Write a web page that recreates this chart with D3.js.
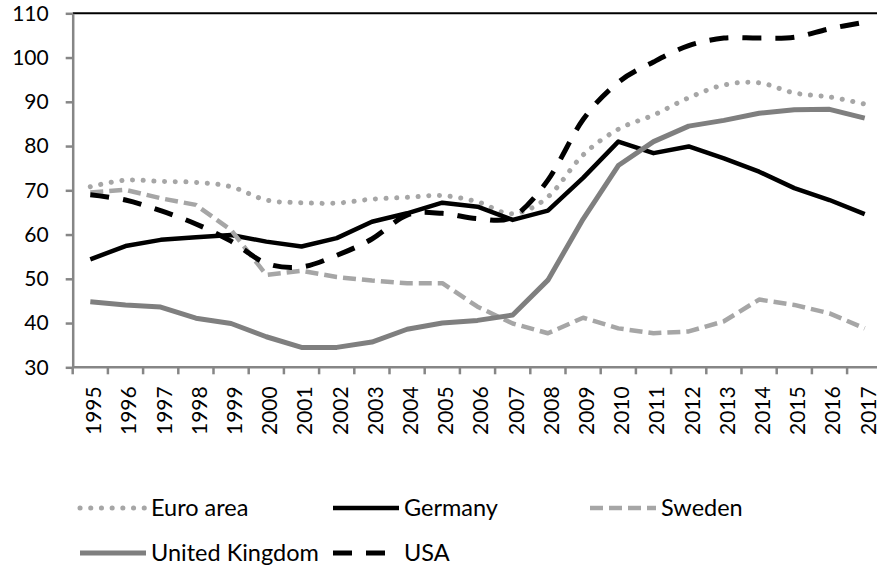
<!DOCTYPE html>
<html>
<head>
<meta charset="utf-8">
<script src="https://cdnjs.cloudflare.com/ajax/libs/d3/7.8.5/d3.min.js"></script>
<style>
  body { margin: 0; background: #fff; }
  svg { display: block; font-family: Lato, "Open Sans", sans-serif; }
  .tick text { fill: #000; }
</style>
</head>
<body>
<div id="chart"></div>
<script>
// chart values
var years = ["1995","1996","1997","1998","1999","2000","2001","2002","2003","2004","2005","2006",
             "2007","2008","2009","2010","2011","2012","2013","2014","2015","2016","2017"];
var euroArea = [70.8, 72.3, 72.0, 71.8, 70.8, 67.8, 67.2, 67.1, 68.0, 68.4, 68.8, 67.4,
                64.7, 68.5, 78.0, 83.8, 87.0, 90.9, 93.8, 94.3, 92.0, 91.1, 89.5];
var germany = [54.4, 57.4, 58.8, 59.4, 59.9, 58.4, 57.3, 59.2, 62.9, 64.8, 67.2, 66.3,
               63.3, 65.4, 72.8, 81.0, 78.4, 79.9, 77.2, 74.2, 70.5, 67.8, 64.6];
var sweden = [69.5, 70.1, 68.2, 66.7, 61.0, 50.9, 51.8, 50.4, 49.6, 49.0, 49.0, 43.7,
              39.9, 37.7, 41.2, 38.8, 37.7, 38.1, 40.4, 45.3, 44.1, 42.2, 38.8];
var unitedKingdom = [44.8, 44.1, 43.6, 41.1, 39.9, 36.9, 34.5, 34.5, 35.7, 38.6, 40.0, 40.6,
                     41.8, 49.7, 63.5, 75.6, 81.0, 84.5, 85.8, 87.4, 88.2, 88.3, 86.3];
var usa = [69.0, 67.8, 65.4, 62.4, 58.5, 53.5, 52.7, 55.3, 59.0, 64.4, 64.8, 63.6,
           64.0, 72.3, 86.0, 94.4, 99.0, 102.7, 104.4, 104.4, 104.6, 106.5, 108.0];
var yTicks = [30, 40, 50, 60, 70, 80, 90, 100, 110];

var width = 877, height = 570;
var plotLeft = 72.7, plotRight = 882.3, plotTop = 13.3, plotBottom = 367.3;

var svg = d3.select("#chart").append("svg")
  .attr("width", width)
  .attr("height", height);

var x = d3.scaleBand().domain(years).range([plotLeft, plotRight]).padding(0);
var y = d3.scaleLinear().domain([30, 110]).range([plotBottom, plotTop]);
var bw = x.bandwidth();

// series styles
var series = [
  {name: "Euro area", values: euroArea, color: "#a6a6a6", width: 5, dash: "0.1,10.6", cap: "round", smooth: true},
  {name: "Germany", values: germany, color: "#000", width: 4.5, dash: null, cap: "butt", smooth: false},
  {name: "Sweden", values: sweden, color: "#a6a6a6", width: 4.5, dash: "13,6", cap: "butt", smooth: false},
  {name: "United Kingdom", values: unitedKingdom, color: "#7f7f7f", width: 5, dash: null, cap: "butt", smooth: false},
  {name: "USA", values: usa, color: "#000", width: 5, dash: "19,14", cap: "butt", smooth: true}
];

// top border
svg.append("line")
  .attr("x1", plotLeft).attr("x2", plotRight)
  .attr("y1", y(110)).attr("y2", y(110))
  .attr("stroke", "#000").attr("stroke-width", 2);

// y axis
var yAxis = svg.append("g")
  .attr("transform", `translate(${plotLeft},0)`)
  .call(d3.axisLeft(y).tickValues(yTicks).tickSize(7).tickPadding(17).tickSizeOuter(0));
yAxis.select(".domain").attr("stroke", "#868686").attr("stroke-width", 2.5);
yAxis.selectAll(".tick line").attr("stroke", "#868686").attr("stroke-width", 2.5);
yAxis.selectAll(".tick text").attr("font-size", 21).attr("font-family", "Lato, sans-serif");

// lines
var lineStraight = d3.line()
  .x((d, i) => x(years[i]) + bw / 2)
  .y(d => y(d));
var lineSmooth = d3.line()
  .x((d, i) => x(years[i]) + bw / 2)
  .y(d => y(d))
  .curve(d3.curveCatmullRom.alpha(0));

svg.append("g").selectAll("path")
  .data(series)
  .enter()
  .append("path")
  .attr("d", s => (s.smooth ? lineSmooth : lineStraight)(s.values))
  .attr("fill", "none")
  .attr("stroke", s => s.color)
  .attr("stroke-width", s => s.width)
  .attr("stroke-dasharray", s => s.dash)
  .attr("stroke-linecap", s => s.cap)
  .attr("stroke-linejoin", "round");

// x axis: line, ticks at band edges, rotated labels
svg.append("line")
  .attr("x1", plotLeft).attr("x2", plotRight)
  .attr("y1", plotBottom).attr("y2", plotBottom)
  .attr("stroke", "#868686").attr("stroke-width", 2.5);

var edges = years.map(d => x(d)).concat([plotRight]);
svg.append("g").selectAll("line")
  .data(edges)
  .enter()
  .append("line")
  .attr("x1", d => d).attr("x2", d => d)
  .attr("y1", plotBottom).attr("y2", plotBottom + 7)
  .attr("stroke", "#868686").attr("stroke-width", 2.5);

svg.append("g").selectAll("text")
  .data(years)
  .enter()
  .append("text")
  .attr("transform", d => `translate(${x(d) + bw / 2 + 3.5},${plotBottom + 19}) rotate(-90)`)
  .attr("text-anchor", "end")
  .attr("dy", "0.35em")
  .attr("font-size", 21)
  .attr("fill", "#000")
  .text(d => d);

// legend
var legendPos = [
  {x: 80, y: 508}, {x: 333, y: 508}, {x: 590, y: 508},
  {x: 80, y: 553}, {x: 333, y: 553}
];
var legend = svg.append("g").selectAll("g")
  .data(series)
  .enter()
  .append("g")
  .attr("transform", (s, i) => `translate(${legendPos[i].x},${legendPos[i].y})`);

legend.append("line")
  .attr("x1", 0).attr("x2", 66)
  .attr("y1", 0).attr("y2", 0)
  .attr("stroke", s => s.color)
  .attr("stroke-width", s => s.width)
  .attr("stroke-dasharray", s => s.dash)
  .attr("stroke-linecap", s => s.cap);

legend.append("text")
  .attr("x", 71)
  .attr("dy", "0.35em")
  .attr("font-size", 23.5)
  .attr("fill", "#000")
  .text(s => s.name);
</script>
</body>
</html>
